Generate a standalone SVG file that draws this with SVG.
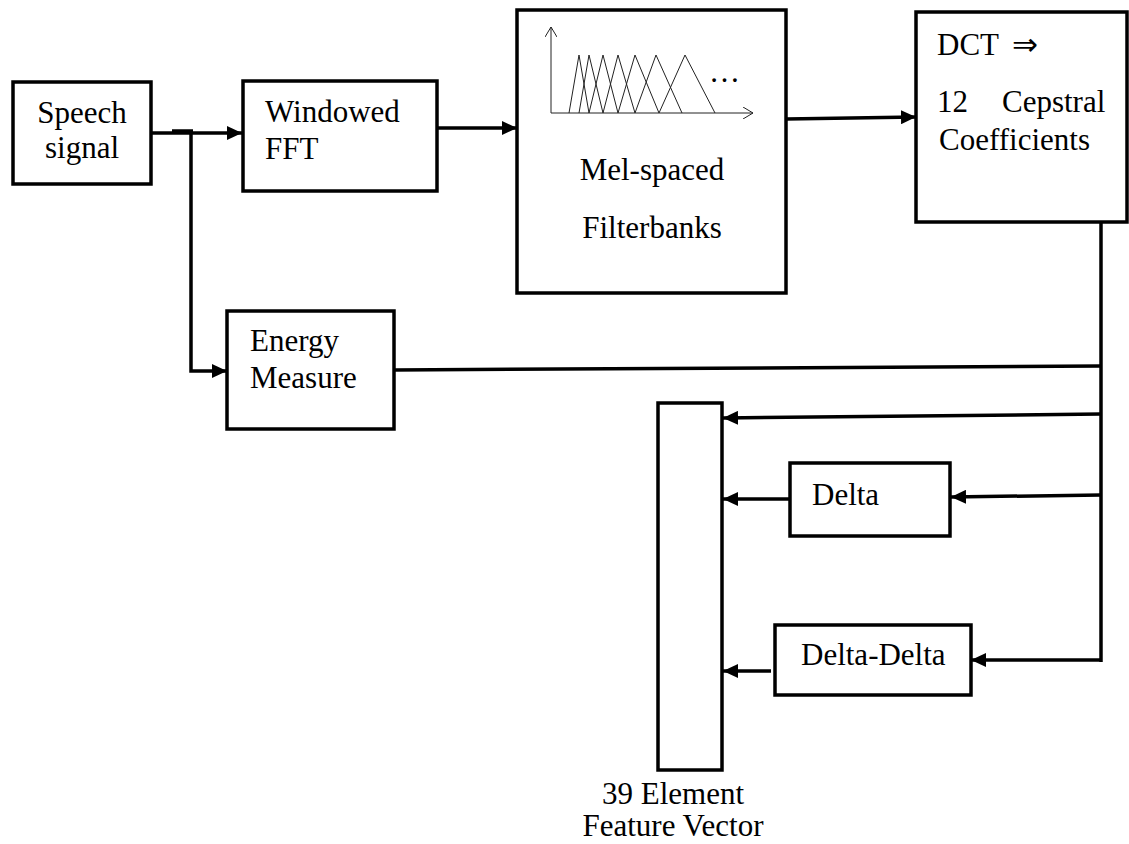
<svg xmlns="http://www.w3.org/2000/svg" width="1129" height="844" viewBox="0 0 1129 844">
<style>
  .box { fill: #fff; stroke: #000; stroke-width: 3.5; }
  .t { font-family: "Liberation Serif", "Times New Roman", serif; font-size: 31px; fill: #000; }
  .c { text-anchor: middle; }
  .ln { fill: none; stroke: #000; stroke-width: 3.5; }
  .arr { fill: none; stroke: #000; stroke-width: 3.5; marker-end: url(#ah); }
  .thin { fill: none; stroke: #222; stroke-width: 1; }
</style>
<defs>
  <marker id="ah" markerUnits="userSpaceOnUse" markerWidth="16" markerHeight="14" refX="15" refY="7" orient="auto">
    <path d="M0,0 L15,7 L0,14 Z" fill="#000"/>
  </marker>
  <marker id="oa" markerUnits="userSpaceOnUse" markerWidth="12" markerHeight="12" refX="10" refY="6" orient="auto">
    <path d="M0,0 L10,6 L0,12" fill="none" stroke="#222" stroke-width="1"/>
  </marker>
</defs>
<rect width="1129" height="844" fill="#fff"/>

<g id="connectors">
  <line class="arr" x1="151" y1="133" x2="242" y2="133"/>
  <line class="ln" x1="172" y1="131" x2="193" y2="131"/>
  <polyline class="arr" points="191,131 191,371 227,371"/>
  <line class="arr" x1="437" y1="128" x2="517" y2="128"/>
  <line class="arr" x1="786" y1="119" x2="916" y2="117"/>
  <line class="ln" x1="1101" y1="222" x2="1101" y2="662"/>
  <line class="ln" x1="394" y1="370" x2="1101" y2="366"/>
  <line class="arr" x1="1101" y1="414" x2="723" y2="418"/>
  <line class="arr" x1="1101" y1="495" x2="951" y2="497"/>
  <line class="arr" x1="790" y1="499" x2="723" y2="499"/>
  <polyline class="arr" points="1101,660 971,660"/>
  <line class="arr" x1="771" y1="671" x2="723" y2="671"/>
</g>

<g id="speech">
  <rect class="box" x="13" y="82" width="138" height="102"/>
  <text class="t c" x="82" y="123">Speech</text>
  <text class="t c" x="82" y="158">signal</text>
</g>

<g id="fft">
  <rect class="box" x="243" y="81" width="194" height="110"/>
  <text class="t" x="265" y="122">Windowed</text>
  <text class="t" x="265" y="159">FFT</text>
</g>

<g id="mel">
  <rect class="box" x="517" y="10" width="269" height="283"/>
  <line class="thin" x1="551" y1="113" x2="551" y2="27" marker-end="url(#oa)"/>
  <line class="thin" x1="551" y1="113" x2="753" y2="113" marker-end="url(#oa)"/>
  <polyline class="thin" points="569,113 579,55 589,113"/>
  <polyline class="thin" points="579,113 589,55 603,113"/>
  <polyline class="thin" points="589,113 603,55 618,113"/>
  <polyline class="thin" points="603,113 618,55 635,113"/>
  <polyline class="thin" points="618,113 635,55 659,113"/>
  <polyline class="thin" points="635,113 656,55 682,113"/>
  <polyline class="thin" points="659,113 685,55 715,113"/>
  <text class="t" x="709" y="82" font-size="24">…</text>
  <text class="t c" x="652" y="180">Mel-spaced</text>
  <text class="t c" x="652" y="238">Filterbanks</text>
</g>

<g id="dct">
  <rect class="box" x="916" y="12" width="211" height="210"/>
  <text class="t" x="937" y="55">DCT <tspan x="1012">⇒</tspan></text>
  <text class="t"><tspan x="937" y="112">12</tspan><tspan x="1002" y="112">Cepstral</tspan></text>
  <text class="t" x="939" y="150">Coefficients</text>
</g>

<g id="energy">
  <rect class="box" x="227" y="311" width="167" height="118"/>
  <text class="t" x="250" y="351">Energy</text>
  <text class="t" x="250" y="388">Measure</text>
</g>

<g id="feature">
  <rect class="box" x="658" y="403" width="64" height="367"/>
  <text class="t c" x="673" y="804">39 Element</text>
  <text class="t c" x="673" y="836">Feature Vector</text>
</g>

<g id="delta">
  <rect class="box" x="790" y="463" width="160" height="73"/>
  <text class="t" x="812" y="505">Delta</text>
</g>

<g id="deltadelta">
  <rect class="box" x="775" y="625" width="196" height="70"/>
  <text class="t" x="801" y="665">Delta-Delta</text>
</g>
</svg>
